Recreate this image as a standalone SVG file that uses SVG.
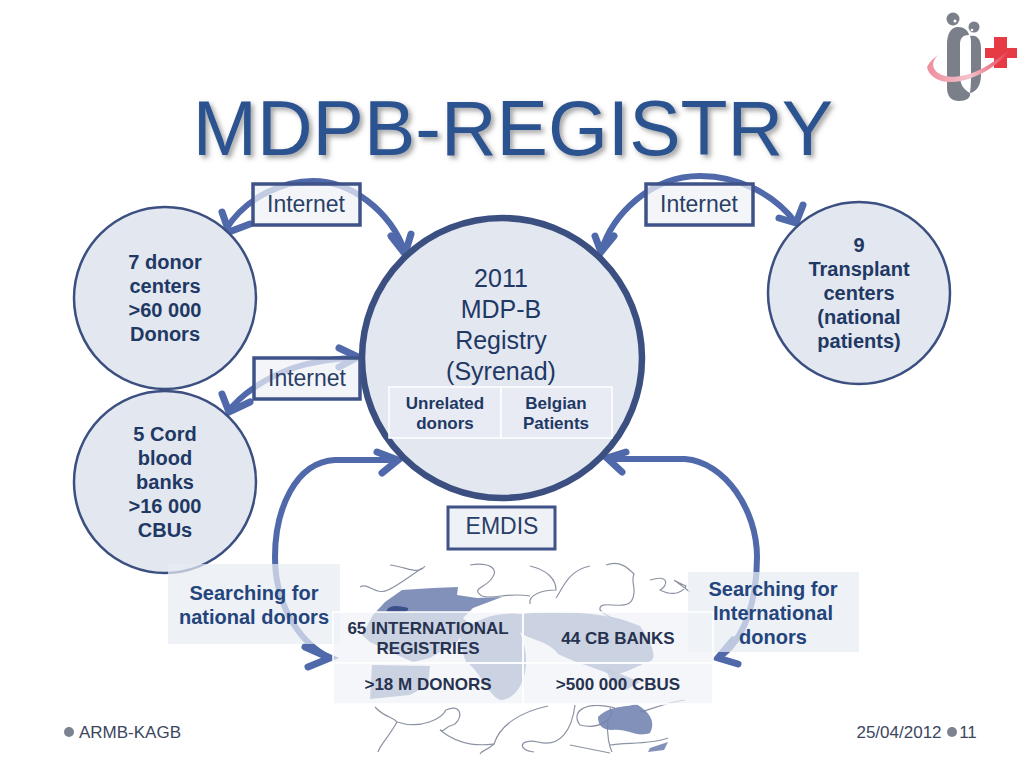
<svg xmlns="http://www.w3.org/2000/svg" width="1024" height="768" viewBox="0 0 1024 768">
<style>
text{font-family:"Liberation Sans",Arial,sans-serif;text-anchor:middle}
.title{font-size:77px;fill:#2b5290}
.c{fill:#e2e7f0;stroke:#3b4f80;stroke-width:2.5}
.b{font-size:20px;font-weight:bold;fill:#1f3864}
.n{font-size:25px;fill:#1f3864}
.i{font-size:23px;fill:#2a3f66}
.lb{fill:#eef1f6;fill-opacity:.72;stroke:#3f5388;stroke-width:3.5}
.t{font-size:17px;font-weight:bold;fill:#1f3864}
.m{font-size:17px;font-weight:bold;fill:#27324f}
.cell{fill:#eff1f6;fill-opacity:.68;stroke:#fff;stroke-width:1.5}
.ar{fill:none;stroke:#5069ab;stroke-width:6}
.ah{fill:none;stroke:#5069ab;stroke-width:7;stroke-linecap:round;stroke-linejoin:miter}
.pz{fill:none;stroke:#8c93a3;stroke-width:1.2}
.land{fill:#6f82b0;fill-opacity:.88}
.f{font-size:17px;fill:#3b4660}
.g{fill:#7b7f8a}
</style>
<defs><filter id="sh" x="-5%" y="-5%" width="110%" height="120%"><feDropShadow dx="3" dy="3" stdDeviation="2.5" flood-color="#555" flood-opacity=".55"/></filter>
<linearGradient id="sw" x1="0" x2="1"><stop offset="0" stop-color="#ef8d9c"/><stop offset=".5" stop-color="#f3c3cd"/><stop offset="1" stop-color="#e8344a"/></linearGradient></defs>

<g id="logo">
<circle cx="953" cy="19" r="6.500" fill="#7b7f8a"/><circle cx="955" cy="21" r="1.500" fill="#fff"/>
<circle cx="974" cy="27" r="5.500" fill="#7b7f8a"/><circle cx="972" cy="30" r="1.300" fill="#fff"/>
<path class="g" d="M958 27C951 27 947 34 947 44V88C947 97 952 101 959 101 966 101 971 98 970 93 963 89 960 84 960 76V44C960 38 963 35 969 35 968 30 964 27 958 27Z"/>
<path class="g" d="M970 36C978 34 981 41 981 48V75C981 86 976 92 970 93 971 85 971 80 971 72V46C971 41 971 38 970 36Z"/>
<path d="M994 37H1007V48H1017V58H1007V68H994V58H985V48H994Z" fill="#e63a45"/>
<path d="M1012 47C1000 65 975 81 952 82 938 83 928 75 927 67 931 60 934 58 938 55 931 62 931 70 942 75 958 81 985 72 1012 47Z" fill="url(#sw)"/>
</g>

<text id="title" class="title" x="513" y="155" filter="url(#sh)">MDPB-REGISTRY</text>

<g id="map">
<g class="pz">
<path d="M360 587C368 582 376 596 388 590 395 587 415 573 422 568"/>
<path d="M390 565C410 568 418 575 425 566"/>
<path d="M470 565C488 562 500 568 492 578 486 588 470 588 482 596 492 600 506 592 530 596"/>
<path d="M530 566C548 570 556 580 556 590 544 590 528 594 530 604"/>
<path d="M590 566C568 570 562 590 556 598"/>
<path d="M606 565C620 560 628 568 634 574 630 584 638 588 632 600 626 612 598 598 600 610 612 622 622 618 630 624"/>
<path d="M650 580C670 574 668 586 660 590 676 598 684 590 686 586 672 580 668 575 690 592"/>
<path d="M375 707C385 718 392 716 397 722 422 730 442 718 446 710 460 704 464 715 455 724 442 728 446 732 440 730"/>
<path d="M397 722C388 738 380 745 378 752"/>
<path d="M440 730C462 748 485 745 494 744 500 725 520 712 548 706"/>
<path d="M494 744C485 752 482 750 480 754"/>
<path d="M575 705C572 730 560 748 538 742 520 738 516 750 534 752"/>
<path d="M615 708C585 700 570 712 580 725 600 730 616 718 610 708"/>
<path d="M640 712C655 708 668 702 685 700"/>
<path d="M610 745C625 742 650 745 668 738"/>
<path d="M570 745L610 753"/>
<path d="M608 720C606 735 610 748 612 752"/>
</g>
<path class="land" d="M385 602L402 590 433 588 458 587 457 595 477 598 502 597 473 608 463 618 470 625 457 642 430 658 413 662 397 655 370 642 362 635 373 615Z"/>
<path class="land" d="M372 665L430 666 428 685 410 695 370 699Z"/>
<path d="M387 610C390 604 402 606 408 608 410 612 400 614 386 612Z" fill="#3b508a"/>
<path class="land" d="M462 630C480 618 495 612 520 614 560 610 610 612 640 626 650 640 660 660 648 662 632 668 615 680 605 672 585 665 570 660 558 654 548 640 528 640 520 632 535 668 520 700 500 700 488 695 478 668 466 662 462 650 458 640 462 630Z"/>
<path class="land" d="M598 717C610 705 624 708 636 704 650 712 656 722 650 733 636 738 628 728 612 730 602 730 598 725 598 717Z"/>
<path class="land" d="M606 668L640 682 626 690 610 680Z"/>
<path class="land" d="M650 748L668 742 664 750 648 752Z"/>
</g>

<g id="connectors">
<path class="ar" d="M226 229C248 195 285 181 313 181 350 181 390 210 405 252"/>
<path class="ah" d="M222 212L229 232 250 224"/>
<path class="ah" d="M391 236L405 254 411 234"/>
<path class="ar" d="M601 252C612 215 650 176 700 176 740 176 775 195 796 223"/>
<path class="ah" d="M595 236L601 252 614 236"/>
<path class="ah" d="M803 205L796 223 779 218"/>
<path class="ar" d="M228 412C240 395 265 378 293 368 315 361 340 358 358 358"/>
<path class="ah" d="M222 394L229 412 250 402"/>
<path class="ah" d="M339 348L358 357 339 367"/>
<path class="ar" d="M397 460H335C295 462 275 510 275 557 275 600 295 640 330 658"/>
<path class="ah" d="M377 452L398 460 382 473"/>
<path class="ah" d="M305 647L330 658 308 667"/>
<path class="ar" d="M610 459H685C725 462 757 510 757 557 757 600 745 640 718 658"/>
<path class="ah" d="M626 452L607 458 622 472"/>
<path class="ah" d="M738 664L718 658 733 640"/>
</g>

<g id="node-donors"><circle class="c" cx="165" cy="298" r="91"/><text class="b"><tspan x="165" y="269">7 donor</tspan><tspan x="165" y="293">centers</tspan><tspan x="165" y="317">&gt;60 000</tspan><tspan x="165" y="341">Donors</tspan></text></g>
<g id="node-cord"><circle class="c" cx="165" cy="482" r="91"/><text class="b"><tspan x="165" y="441">5 Cord</tspan><tspan x="165" y="465">blood</tspan><tspan x="165" y="489">banks</tspan><tspan x="165" y="513">&gt;16 000</tspan><tspan x="165" y="537">CBUs</tspan></text></g>
<g id="node-transplant"><circle class="c" cx="859" cy="293" r="91"/><text class="b"><tspan x="859" y="252">9</tspan><tspan x="859" y="276">Transplant</tspan><tspan x="859" y="300">centers</tspan><tspan x="859" y="324">(national</tspan><tspan x="859" y="348">patients)</tspan></text></g>

<g id="node-registry"><circle cx="502" cy="358" r="140" fill="#e2e7f0" stroke="#3b4f80" stroke-width="6.500"/>
<text class="n"><tspan x="501" y="287">2011</tspan><tspan x="501" y="318">MDP-B</tspan><tspan x="501" y="349">Registry</tspan><tspan x="501" y="380">(Syrenad)</tspan></text>
<rect x="389" y="387" width="112" height="51" fill="#e8ebf3" stroke="#fff" stroke-width="1.500"/>
<rect x="501" y="387" width="111" height="51" fill="#e8ebf3" stroke="#fff" stroke-width="1.500"/>
<text class="t"><tspan x="445" y="409">Unrelated</tspan><tspan x="445" y="429">donors</tspan><tspan x="556" y="409">Belgian</tspan><tspan x="556" y="429">Patients</tspan></text></g>

<g id="label-internet-1"><rect class="lb" x="253" y="184" width="107" height="41"/><text class="i" x="306" y="212">Internet</text></g>
<g id="label-internet-2"><rect class="lb" x="646" y="184" width="107" height="41"/><text class="i" x="699" y="212">Internet</text></g>
<g id="label-internet-3"><rect class="lb" x="254" y="358" width="106" height="41"/><text class="i" x="307" y="386">Internet</text></g>
<g id="label-emdis"><rect x="448" y="507" width="107" height="42" fill="#eef1f6" stroke="#3f5388" stroke-width="3"/><text class="i" x="502" y="534">EMDIS</text></g>

<g id="label-national"><rect x="168" y="564" width="172" height="80" fill="#e8ebf3" fill-opacity=".72"/><text class="b" style="fill:#24457c"><tspan x="254" y="600">Searching for</tspan><tspan x="254" y="624">national donors</tspan></text></g>
<g id="label-international"><rect x="688" y="572" width="171" height="80" fill="#e8ebf3" fill-opacity=".72"/><text class="b" style="fill:#24457c"><tspan x="773" y="596">Searching for</tspan><tspan x="773" y="620">International</tspan><tspan x="773" y="644">donors</tspan></text></g>

<g id="table">
<rect class="cell" x="333" y="612" width="190" height="51"/><rect class="cell" x="523" y="612" width="190" height="51"/>
<rect class="cell" x="333" y="663" width="190" height="41"/><rect class="cell" x="523" y="663" width="190" height="41"/>
<text class="m"><tspan x="428" y="634">65 INTERNATIONAL</tspan><tspan x="428" y="654">REGISTRIES</tspan><tspan x="618" y="644">44 CB BANKS</tspan><tspan x="428" y="690">&gt;18 M DONORS</tspan><tspan x="618" y="690">&gt;500 000 CBUS</tspan></text>
</g>

<g id="footer">
<circle cx="69" cy="732" r="5" fill="#7b8290"/><text class="f" x="130" y="738">ARMB-KAGB</text>
<text class="f" x="899" y="738">25/04/2012</text>
<circle cx="952" cy="732" r="5" fill="#7b8290"/><text class="f" x="968" y="738">11</text>
</g>
</svg>
